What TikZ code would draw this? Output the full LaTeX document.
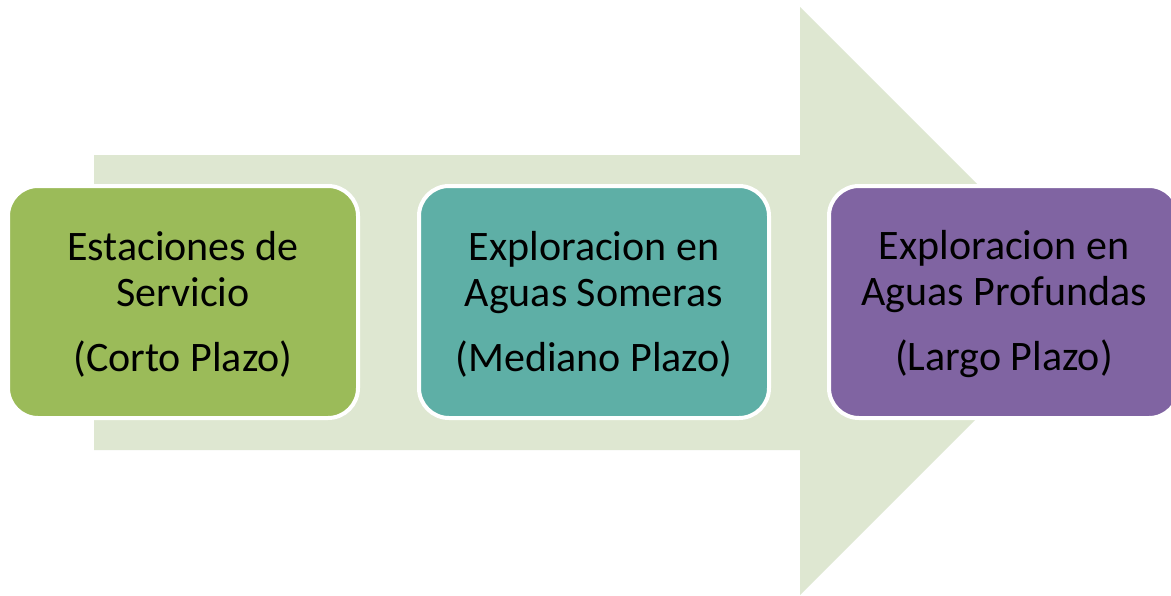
\documentclass[tikz,border=0pt]{standalone}
\usepackage{fontspec}
\setmainfont{Carlito}
\definecolor{arrowfill}{RGB}{222,231,209}
\definecolor{boxgreen}{RGB}{155,187,89}
\definecolor{boxteal}{RGB}{94,175,166}
\definecolor{boxpurple}{RGB}{128,100,162}
\tikzset{
  stagebox/.style={draw=white, line width=4pt, rounded corners=30pt,
    minimum width=350pt, minimum height=232pt, inner sep=0pt},
  stagetext/.style={align=center, inner sep=0pt, text=black,
    font=\fontsize{42}{46}\selectfont},
}
\begin{document}
\begin{tikzpicture}[x=1pt,y=-1pt]
\clip (0,0) rectangle (1171,595);
\fill[white] (0,0) rectangle (1171,595);
% big arrow
\fill[arrowfill] (94,155) -- (800,155) -- (800,7) -- (1094,301) -- (800,595) -- (800,450) -- (94,450) -- cycle;
% boxes
\node[stagebox, fill=boxgreen] (b1) at (183,302) {};
\node[stagebox, fill=boxteal] (b2) at (594,302) {};
\node[stagebox, fill=boxpurple] (b3) at (1004,302) {};
\node[stagetext] (t1) at ([yshift=-2pt]b1.center) {Estaciones de\\Servicio\\[19pt](Corto Plazo)};
\node[stagetext] (t2) at ([yshift=-2pt]b2.center) {Exploracion en\\Aguas Someras\\[19pt](Mediano Plazo)};
\node[stagetext] (t3) at ([yshift=-2pt]b3.center) {Exploracion en\\Aguas Profundas\\[19pt](Largo Plazo)};
\end{tikzpicture}
\end{document}
